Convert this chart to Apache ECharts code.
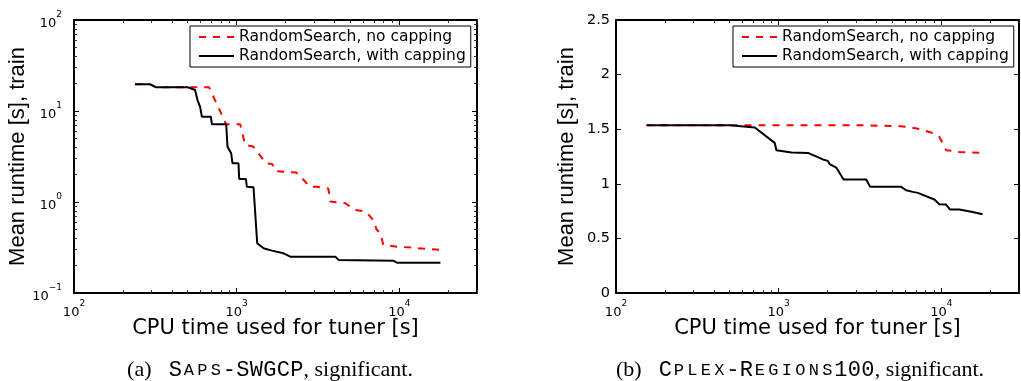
<!DOCTYPE html>
<html>
<head>
<meta charset="utf-8">
<script src="https://cdn.jsdelivr.net/npm/echarts@6/dist/echarts.min.js"></script>
<style>
html, body { margin: 0; padding: 0; background: #ffffff; }
#chart { width: 1021px; height: 381px; }
</style>
</head>
<body>
<div id="chart"></div>
<script>
// ---------------- data ----------------
const seriesNames = ['RandomSearch, no capping', 'RandomSearch, with capping'];
const xAxisTitle = 'CPU time used for tuner [s]';
const yAxisTitle = 'Mean runtime [s], train';
// caption pieces: [tag, [text, isSmallCaps]..., tail]
const captionATag = '(a)';
const captionAName = [['S', false], ['APS', true], ['-SWGCP', false]];
const captionBTag = '(b)';
const captionBName = [['C', false], ['PLEX', true], ['-R', false], ['EGIONS', true], ['100', false]];
const captionTail = ', significant.';

const xRange = [100, 30000];
const xMinorTicks = [200, 300, 400, 500, 600, 700, 800, 900, 2000, 3000, 4000, 5000, 6000, 7000, 8000, 9000, 20000, 30000];
const leftYRange = [0.1, 100];
const leftYMinorTicks = [0.2, 0.3, 0.4, 0.5, 0.6, 0.7, 0.8, 0.9, 2, 3, 4, 5, 6, 7, 8, 9, 20, 30, 40, 50, 60, 70, 80, 90];
const rightYRange = [0, 2.5];
const rightYStep = 0.5;

// (a) SAPS-SWGCP
const leftNoCapping = [[237,19.65],[294,19.65],[320,18.2],[677,18.2],[862,7.14],[1051,7.14],[1128,4.23],[1263,4.07],[1519,2.65],[1652,2.62],[1726,2.19],[2324,2.11],[2640,1.67],[2793,1.48],[3085,1.47],[3656,1.41],[3762,1.01],[4652,0.968],[5362,0.817],[6000,0.796],[6356,0.751],[7022,0.608],[7220,0.501],[7638,0.453],[7970,0.337],[9680,0.323],[11970,0.315],[14800,0.305],[17870,0.297]];
const leftWithCapping = [[237,19.65],[294,19.65],[320,18.2],[503,18.2],[555,17.0],[574,13.2],[596,11.1],[611,8.65],[694,8.65],[704,7.14],[862,7.14],[878,4.05],[925,3.43],[942,2.66],[1026,2.66],[1036,1.79],[1139,1.79],[1155,1.47],[1269,1.45],[1337,0.352],[1362,0.337],[1462,0.31],[1647,0.292],[1941,0.273],[2134,0.251],[4037,0.251],[4230,0.231],[9224,0.226],[9680,0.215],[17870,0.215]];

// (b) CPLEX-REGIONS100
const rightNoCapping = [[154,1.537],[3000,1.537],[5600,1.528],[7080,1.507],[9060,1.461],[9720,1.43],[10690,1.308],[12890,1.292],[17920,1.283]];
const rightWithCapping = [[154,1.537],[500,1.537],[713,1.516],[945,1.375],[968,1.308],[1197,1.287],[1513,1.283],[1870,1.223],[2006,1.21],[2056,1.18],[2259,1.149],[2505,1.039],[3451,1.039],[3652,0.972],[5660,0.972],[6070,0.941],[6670,0.926],[7160,0.917],[9060,0.856],[9720,0.813],[10690,0.81],[11310,0.764],[12890,0.764],[15560,0.742],[17920,0.721]];

// ---------------- options ----------------
const BLACK = '#000000';
const RED = '#ff0000';
const SANS = 'DejaVu Sans';

function powLabel(v) {
  const e = Math.log10(v);
  const r = Math.round(e);
  if (Math.abs(e - r) > 1e-6) return '';
  return '{b|10}{e|' + (r < 0 ? '\u2212' + (-r) : r) + '}';
}
const powRich = {
  b: { fontFamily: SANS, fontSize: 13, lineHeight: 20, verticalAlign: 'bottom', color: BLACK },
  e: { fontFamily: SANS, fontSize: 9, lineHeight: 10, verticalAlign: 'top', color: BLACK }
};

function majorLogAxis(grid, pos, range, showLabel, extra) {
  return Object.assign({
    type: 'log', logBase: 10, gridIndex: grid, position: pos,
    min: range[0], max: range[1],
    axisLine: { show: true, onZero: false, lineStyle: { color: BLACK, width: 2 } },
    axisTick: { show: true, inside: true, length: 5, lineStyle: { color: BLACK, width: 1 } },
    axisLabel: showLabel ? { show: true, formatter: powLabel, rich: powRich, margin: pos === 'bottom' ? 6 : 12 } : { show: false },
    splitLine: { show: false },
    minorTick: { show: false },
    nameMoveOverlap: false
  }, extra || {});
}
function minorLogAxis(grid, pos, range, ticks) {
  return {
    type: 'value', gridIndex: grid, position: pos,
    min: Math.log10(range[0]), max: Math.log10(range[1]),
    axisLine: { show: false, onZero: false },
    axisTick: { show: true, inside: true, length: 3, lineStyle: { color: '#333333', width: 1 }, customValues: ticks.map(Math.log10) },
    axisLabel: { show: false },
    splitLine: { show: false }
  };
}
function linearAxis(grid, pos, showLabel, extra) {
  return Object.assign({
    type: 'value', gridIndex: grid, position: pos,
    min: rightYRange[0], max: rightYRange[1], interval: rightYStep,
    axisLine: { show: true, onZero: false, lineStyle: { color: BLACK, width: 2 } },
    axisTick: { show: true, inside: true, length: 5, lineStyle: { color: BLACK, width: 1 } },
    axisLabel: showLabel ? { show: true, fontFamily: SANS, fontSize: 14.5, color: BLACK, margin: 6 } : { show: false },
    splitLine: { show: false },
    nameMoveOverlap: false
  }, extra || {});
}

const xName = (gap) => ({
  name: xAxisTitle, nameLocation: 'middle', nameGap: gap,
  nameTextStyle: { fontFamily: SANS, fontSize: 21, color: BLACK }
});
const yName = (gap) => ({
  name: yAxisTitle, nameLocation: 'middle', nameGap: gap, nameRotate: 90,
  nameTextStyle: { fontFamily: 'Liberation Sans', fontSize: 22, color: BLACK }
});

const xAxes = [];
const yAxes = [];
[0, 1].forEach(function (g) {
  xAxes.push(majorLogAxis(g, 'bottom', xRange, true, xName(25)));
  xAxes.push(majorLogAxis(g, 'top', xRange, false));
  xAxes.push(minorLogAxis(g, 'bottom', xRange, xMinorTicks));
  xAxes.push(minorLogAxis(g, 'top', xRange, xMinorTicks));
});
yAxes.push(majorLogAxis(0, 'left', leftYRange, true, yName(45)));
yAxes.push(majorLogAxis(0, 'right', leftYRange, false));
yAxes.push(minorLogAxis(0, 'left', leftYRange, leftYMinorTicks));
yAxes.push(minorLogAxis(0, 'right', leftYRange, leftYMinorTicks));
yAxes.push(linearAxis(1, 'left', true, yName(38)));
yAxes.push(linearAxis(1, 'right', false));

function lineSeries(name, data, xi, yi, dashed) {
  return {
    type: 'line', name: name, xAxisIndex: xi, yAxisIndex: yi, data: data,
    symbol: 'none', showSymbol: false, silent: true,
    lineStyle: { color: dashed ? RED : BLACK, width: 2, type: dashed ? [7, 7] : 'solid' },
    itemStyle: { color: dashed ? RED : BLACK }
  };
}

function legendAt(left) {
  return {
    left: left, top: 26, orient: 'vertical', data: seriesNames, selectedMode: false,
    itemWidth: 35, itemHeight: 14, itemGap: 1, itemTextGap: 5,
    padding: [2, 5, 2, 8], borderColor: BLACK, borderWidth: 1, backgroundColor: '#ffffff',
    itemStyle: { opacity: 0 },
    lineStyle: { width: 2 },
    textStyle: { fontFamily: SANS, fontSize: 15.5, color: BLACK, lineHeight: 18 }
  };
}

// caption: typewriter small caps keep the full monospace advance
const MONO_ADV = 13.5;
const capRich = {
  r: { fontFamily: 'Liberation Serif', fontSize: 22, color: BLACK, lineHeight: 26 },
  gap: { width: 17, lineHeight: 26 },
  m: { fontFamily: 'Liberation Mono', fontSize: 22, color: '#404040', width: MONO_ADV, lineHeight: 26 },
  s: { fontFamily: 'Liberation Mono', fontSize: 17, color: '#404040', width: MONO_ADV, lineHeight: 26 }
};
function captionText(tag, parts) {
  let t = '{r|' + tag + '}{gap|}';
  parts.forEach(function (p) {
    const key = p[1] ? 's' : 'm';
    p[0].split('').forEach(function (ch) { t += '{' + key + '|' + ch + '}'; });
  });
  return t + '{r|' + captionTail + '}';
}

const option = {
  animation: false,
  backgroundColor: '#ffffff',
  grid: [
    { left: 74, top: 20, width: 403, height: 273, outerBoundsMode: 'none', containLabel: false },
    { left: 616, top: 20, width: 403, height: 273, outerBoundsMode: 'none', containLabel: false }
  ],
  xAxis: xAxes,
  yAxis: yAxes,
  legend: [legendAt(190), legendAt(733)],
  series: [
    lineSeries(seriesNames[0], leftNoCapping, 0, 0, true),
    lineSeries(seriesNames[1], leftWithCapping, 0, 0, false),
    lineSeries(seriesNames[0], rightNoCapping, 4, 4, true),
    lineSeries(seriesNames[1], rightWithCapping, 4, 4, false)
  ],
  graphic: [
    { type: 'text', x: 270, y: 370, silent: true,
      style: { text: captionText(captionATag, captionAName), align: 'center', verticalAlign: 'middle', rich: capRich } },
    { type: 'text', x: 800, y: 370, silent: true,
      style: { text: captionText(captionBTag, captionBName), align: 'center', verticalAlign: 'middle', rich: capRich } }
  ]
};

const chart = echarts.init(document.getElementById('chart'), null, { renderer: 'canvas' });
chart.setOption(option);
</script>
</body>
</html>
